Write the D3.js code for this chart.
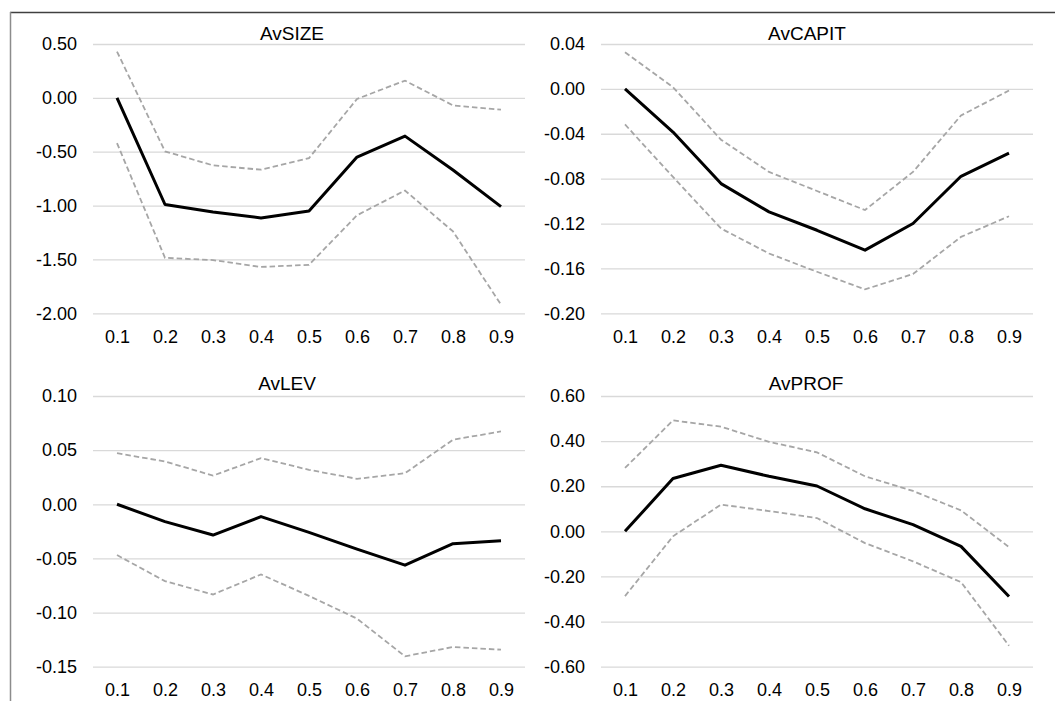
<!DOCTYPE html>
<html>
<head>
<meta charset="utf-8">
<script src="https://cdn.jsdelivr.net/npm/d3@7"></script>
<style>
	body { margin: 0; background: #fff; }
	svg { display: block; font-family: "Liberation Sans", Arial, sans-serif; }
</style>
</head>
<body>
<div class="chart"></div>
<script>
// quantiles on the x axis
const quantiles = ["0.1", "0.2", "0.3", "0.4", "0.5", "0.6", "0.7", "0.8", "0.9"];

// AvSIZE
const sizeMean  = [0, -0.99, -1.06, -1.115, -1.05, -0.55, -0.355, -0.67, -1.01];
const sizeUpper = [0.43, -0.497, -0.627, -0.667, -0.56, -0.01, 0.16, -0.07, -0.11];
const sizeLower = [-0.42, -1.485, -1.506, -1.57, -1.55, -1.09, -0.86, -1.24, -1.92];
const sizeTicks = [0.5, 0, -0.5, -1, -1.5, -2];

// AvCAPIT
const capitMean  = [0, -0.0385, -0.0844, -0.1096, -0.126, -0.1437, -0.12, -0.0779, -0.0572];
const capitUpper = [0.0326, 0.0015, -0.0453, -0.074, -0.091, -0.108, -0.074, -0.0237, -0.0015];
const capitLower = [-0.0317, -0.0785, -0.1244, -0.1467, -0.163, -0.1787, -0.165, -0.1319, -0.1135];
const capitTicks = [0.04, 0, -0.04, -0.08, -0.12, -0.16, -0.2];

// AvLEV
const levMean  = [0, -0.016, -0.0284, -0.0114, -0.026, -0.0414, -0.0562, -0.0364, -0.0336];
const levUpper = [0.0472, 0.0395, 0.0265, 0.0426, 0.0318, 0.0235, 0.0287, 0.0596, 0.0673];
const levLower = [-0.0469, -0.071, -0.0833, -0.0648, -0.0846, -0.1056, -0.1404, -0.1318, -0.1343];
const levTicks = [0.1, 0.05, 0, -0.05, -0.1, -0.15];

// AvPROF
const profMean  = [0, 0.234, 0.293, 0.244, 0.201, 0.1, 0.0296, -0.0667, -0.289];
const profUpper = [0.281, 0.492, 0.464, 0.397, 0.35, 0.244, 0.179, 0.093, -0.07];
const profLower = [-0.287, -0.022, 0.1185, 0.09, 0.059, -0.052, -0.133, -0.225, -0.507];
const profTicks = [0.6, 0.4, 0.2, 0, -0.2, -0.4, -0.6];

let width = 1055, height = 701;

let svg = d3.select(".chart")
	.append("svg")
	.attr("width", width)
	.attr("height", height);

// outer frame (top and left edges only show)
svg.append("line").attr("x1", 10).attr("x2", width).attr("y1", 12.5).attr("y2", 12.5)
	.attr("stroke", "#404040").attr("stroke-width", 1.5);
svg.append("line").attr("x1", 10.5).attr("x2", 10.5).attr("y1", 12).attr("y2", height)
	.attr("stroke", "#8c8c8c").attr("stroke-width", 1.5);

let panels = [
	{ title: "AvSIZE", mean: sizeMean, upper: sizeUpper, lower: sizeLower, ticks: sizeTicks,
	  left: 93, right: 525, top: 44, bottom: 313.3, titleX: 292, titleY: 33 },
	{ title: "AvCAPIT", mean: capitMean, upper: capitUpper, lower: capitLower, ticks: capitTicks,
	  left: 601, right: 1033, top: 44, bottom: 313.3, titleX: 807, titleY: 33 },
	{ title: "AvLEV", mean: levMean, upper: levUpper, lower: levLower, ticks: levTicks,
	  left: 93, right: 525, top: 396, bottom: 666.7, titleX: 287, titleY: 383 },
	{ title: "AvPROF", mean: profMean, upper: profUpper, lower: profLower, ticks: profTicks,
	  left: 601, right: 1033, top: 396, bottom: 666.7, titleX: 806, titleY: 383 }
];

let drawPanel = function (p) {
	let g = svg.append("g");

	let x = d3.scalePoint().domain(quantiles).range([p.left, p.right]).padding(0.5);
	let y = d3.scaleLinear().domain(d3.extent(p.ticks)).range([p.bottom, p.top]);

	// y axis with gridlines
	let yAxis = g.append("g")
		.attr("transform", "translate(" + p.left + ",0)")
		.call(d3.axisLeft(y)
			.tickValues(p.ticks)
			.tickSizeInner(-(p.right - p.left))
			.tickSizeOuter(0)
			.tickPadding(16));
	yAxis.select(".domain").remove();
	yAxis.selectAll(".tick line").attr("stroke", "#d9d9d9").attr("stroke-width", 1.3);
	yAxis.selectAll(".tick text").attr("fill", "#000").style("font-size", "18px")
		.text(d => d3.format(".2f")(d).replace("−", "-"));

	// x axis labels only
	let xAxis = g.append("g")
		.attr("transform", "translate(0," + p.bottom + ")")
		.call(d3.axisBottom(x).tickSize(0).tickPadding(17));
	xAxis.select(".domain").remove();
	xAxis.selectAll(".tick text").attr("fill", "#000").style("font-size", "18px");

	let line = d3.line()
		.x((d, i) => x(quantiles[i]))
		.y(d => y(d));

	[p.upper, p.lower].forEach(function (band) {
		g.append("path")
			.datum(band)
			.attr("fill", "none")
			.attr("stroke", "#a6a6a6")
			.attr("stroke-width", 1.8)
			.attr("stroke-dasharray", "5.5,3")
			.attr("d", line);
	});

	g.append("path")
		.datum(p.mean)
		.attr("fill", "none")
		.attr("stroke", "#000")
		.attr("stroke-width", 3)
		.attr("stroke-linejoin", "round")
		.attr("d", line);

	g.append("text")
		.attr("x", p.titleX)
		.attr("y", p.titleY + 7)
		.attr("text-anchor", "middle")
		.style("font-size", "19px")
		.text(p.title);
};

panels.forEach(drawPanel);
</script>
</body>
</html>
